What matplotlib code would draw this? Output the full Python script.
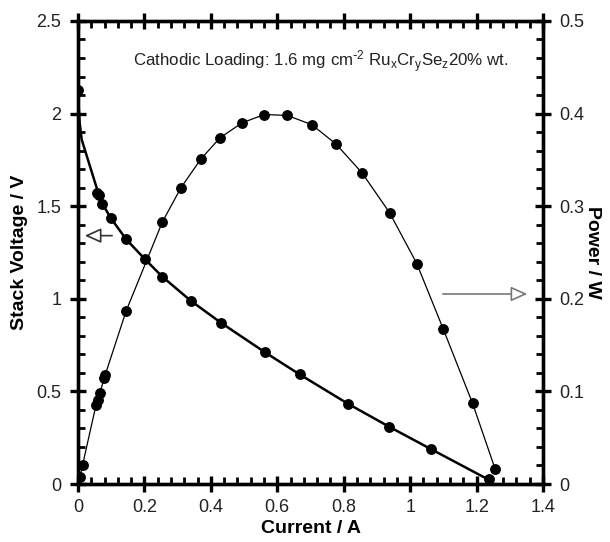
import matplotlib
matplotlib.use("Agg")
import matplotlib.pyplot as plt
from matplotlib.ticker import MultipleLocator

plt.rcParams['font.family'] = ['Liberation Sans', 'DejaVu Sans']
plt.rcParams['mathtext.default'] = 'regular'

# Voltage data (markers)
v_current = [0.0, 0.056, 0.063, 0.071, 0.099, 0.145, 0.202, 0.254, 0.339, 0.430,
             0.563, 0.667, 0.814, 0.937, 1.062, 1.237]
v_voltage = [2.13, 1.573, 1.561, 1.512, 1.435, 1.321, 1.213, 1.119, 0.990, 0.871,
             0.711, 0.592, 0.432, 0.309, 0.189, 0.029]
# Voltage fitted line vertices
vfit_current = [0.0, 0.005, 0.011, 0.056, 0.071, 0.099, 0.145, 0.202, 0.254, 0.339,
                0.430, 0.563, 0.667, 0.814, 0.937, 1.062, 1.245]
vfit_voltage = [2.10, 1.95, 1.86, 1.60, 1.52, 1.435, 1.321, 1.213, 1.119, 0.990,
                0.871, 0.711, 0.592, 0.432, 0.309, 0.189, 0.015]

# Power data
p_current = [0.006, 0.014, 0.054, 0.059, 0.066, 0.079, 0.082, 0.145, 0.254, 0.310,
             0.370, 0.428, 0.494, 0.561, 0.630, 0.704, 0.777, 0.855, 0.938, 1.020,
             1.100, 1.188, 1.256]
p_power = [0.008, 0.021, 0.085, 0.091, 0.098, 0.115, 0.118, 0.187, 0.283, 0.320,
           0.351, 0.374, 0.390, 0.399, 0.398, 0.388, 0.367, 0.336, 0.293, 0.238,
           0.167, 0.087, 0.016]

x_ticks = [0, 0.2, 0.4, 0.6, 0.8, 1.0, 1.2, 1.4]
x_labels = ['0', '0.2', '0.4', '0.6', '0.8', '1', '1.2', '1.4']
yl_ticks = [0, 0.5, 1.0, 1.5, 2.0, 2.5]
yl_labels = ['0', '0.5', '1', '1.5', '2', '2.5']
yr_ticks = [0, 0.1, 0.2, 0.3, 0.4, 0.5]
yr_labels = ['0', '0.1', '0.2', '0.3', '0.4', '0.5']

fig = plt.figure(figsize=(6.1, 5.42), dpi=100)
ax = fig.add_axes([0.1279, 0.1070, 0.7623, 0.8543])
ax2 = ax.twinx()

ax.plot(vfit_current, vfit_voltage, color='black', lw=1.8, zorder=3)
ax.plot(v_current, v_voltage, 'o', color='black', ms=6.8, zorder=4)
ax2.plot(p_current, p_power, '-', color='black', lw=0.9, zorder=3)
ax2.plot(p_current, p_power, 'o', color='black', ms=6.8, zorder=4)

ax.set_xlim(0, 1.4)
ax.set_ylim(0, 2.5)
ax2.set_ylim(0, 0.5)

ax.set_xticks(x_ticks)
ax.set_xticklabels(x_labels)
ax.set_yticks(yl_ticks)
ax.set_yticklabels(yl_labels)
ax2.set_yticks(yr_ticks)
ax2.set_yticklabels(yr_labels)
ax.xaxis.set_minor_locator(MultipleLocator(0.04))
ax.yaxis.set_minor_locator(MultipleLocator(0.1))
ax2.yaxis.set_minor_locator(MultipleLocator(0.02))

for a in (ax, ax2):
    for s in a.spines.values():
        s.set_linewidth(2.4)
ax.tick_params(axis='x', which='major', direction='inout', length=12, width=2.4,
               labelsize=13, colors='black', labelcolor='#222222', top=True, pad=5)
ax.tick_params(axis='x', which='minor', direction='in', length=5, width=2.0, top=True)
ax.tick_params(axis='y', which='major', direction='inout', length=12, width=2.4,
               labelsize=13, labelcolor='#222222', pad=6)
ax.tick_params(axis='y', which='minor', direction='in', length=5, width=2.0)
ax2.tick_params(axis='y', which='major', direction='inout', length=12, width=2.4,
                labelsize=13, labelcolor='#222222', pad=6)
ax2.tick_params(axis='y', which='minor', direction='in', length=5, width=2.0)

ax.set_xlabel('Current / A', fontsize=14, fontweight='bold', labelpad=3)
ax.set_ylabel('Stack Voltage / V', fontsize=14, fontweight='bold', labelpad=6)
ax2.set_ylabel('Power / W', fontsize=14, fontweight='bold', rotation=270, labelpad=12)

ax.text(0.165, 2.28,
        r'Cathodic Loading: 1.6 mg cm$^{\text{-}2}$ Ru$_{x}$Cr$_{y}$Se$_{z}$20% wt.',
        fontsize=12.2, color='#222222', va='center', ha='left')

ax.annotate('', xy=(0.012, 1.341), xytext=(0.111, 1.341),
            arrowprops=dict(arrowstyle='-|>,head_length=1.0,head_width=0.45',
                            edgecolor='#333333', facecolor='white', lw=1.2))
ax.annotate('', xy=(1.361, 1.026), xytext=(1.090, 1.026),
            arrowprops=dict(arrowstyle='-|>,head_length=1.0,head_width=0.45',
                            edgecolor='#777777', facecolor='white', lw=1.2))

fig.savefig('out.png', dpi=100)
